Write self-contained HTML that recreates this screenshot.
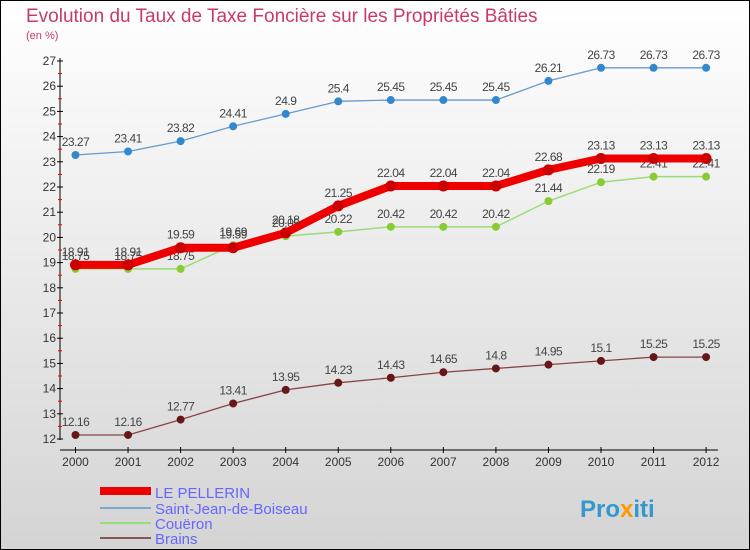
<!DOCTYPE html>
<html><head><meta charset="utf-8"><style>
body{margin:0}
svg{display:block;font-family:"Liberation Sans",sans-serif}
</style></head><body>
<svg id="c" width="750" height="550" viewBox="0 0 750 550">
<defs><linearGradient id="bg" x1="0" y1="0" x2="0" y2="1"><stop offset="0" stop-color="#ffffff"/><stop offset="1" stop-color="#d4d4d4"/></linearGradient></defs>
<rect x="0.5" y="0.5" width="749" height="549" fill="url(#bg)" stroke="#000"/>
<text x="26" y="22" font-size="19" fill="#c8396a">Evolution du Taux de Taxe Foncière sur les Propriétés Bâties</text>
<text x="26" y="39" font-size="11" fill="#c8396a">(en %)</text>
<g id="axes"></g><g id="series"></g>
<g>
<rect x="100" y="487" width="51" height="8" fill="#ee0000"/>
<text x="155" y="498" font-size="15" fill="#6666ff">LE PELLERIN</text>
<rect x="100" y="507" width="51" height="2" fill="#7aaacc"/>
<text x="155" y="514" font-size="15" fill="#6666ff">Saint-Jean-de-Boiseau</text>
<rect x="100" y="522" width="51" height="2" fill="#99dd77"/>
<text x="155" y="529" font-size="15" fill="#6666ff">Couëron</text>
<rect x="100" y="537" width="51" height="2" fill="#885555"/>
<text x="155" y="544" font-size="15" fill="#6666ff">Brains</text>
</g>
<text x="580" y="517" font-size="24" font-weight="bold" fill="#3399cc">Pro<tspan fill="#ff9900">x</tspan>iti</text>
</svg>
<script>
const years=[2000,2001,2002,2003,2004,2005,2006,2007,2008,2009,2010,2011,2012];
const yTicks=[12,13,14,15,16,17,18,19,20,21,22,23,24,25,26,27];
const lePellerin=[18.91,18.91,19.59,19.59,20.18,21.25,22.04,22.04,22.04,22.68,23.13,23.13,23.13];
const saintJean=[23.27,23.41,23.82,24.41,24.9,25.4,25.45,25.45,25.45,26.21,26.73,26.73,26.73];
const coueron=[18.75,18.75,18.75,19.69,20.05,20.22,20.42,20.42,20.42,21.44,22.19,22.41,22.41];
const brains=[12.16,12.16,12.77,13.41,13.95,14.23,14.43,14.65,14.8,14.95,15.1,15.25,15.25];
const NS="http://www.w3.org/2000/svg";
const X=i=>75.5+i*52.55, Y=v=>439-(v-12)*25.2;
function mk(t,a,p){const e=document.createElementNS(NS,t);for(const k in a)e.setAttribute(k,a[k]);p.appendChild(e);return e;}
const ax=document.getElementById('axes');
let l=mk('line',{x1:60,y1:58,x2:60,y2:440,stroke:'#000'},ax);


l=mk('line',{x1:60,y1:450,x2:718,y2:450,stroke:'#000'},ax);


yTicks.forEach(v=>{mk('line',{x1:57,y1:Y(v),x2:63,y2:Y(v),stroke:'#000'},ax);
if(v<27)mk('line',{x1:58,y1:Y(v+0.5),x2:62,y2:Y(v+0.5),stroke:'#e00'},ax);
const t=mk('text',{x:56,y:Y(v)+4,'font-size':12,fill:'#333','text-anchor':'end'},ax);t.textContent=v;

});
years.forEach((yr,i)=>{mk('line',{x1:X(i),y1:447,x2:X(i),y2:453,stroke:'#000'},ax);
const t=mk('text',{x:X(i),y:466,'font-size':12,fill:'#333','text-anchor':'middle'},ax);t.textContent=yr;

});
const sg=document.getElementById('series');
function series(d,name,col,w,dot,dcol,r){
const g=mk('g',{},sg);


mk('polyline',{points:d.map((v,i)=>X(i)+','+Y(v)).join(' '),fill:'none',stroke:col,'stroke-width':w,'stroke-linejoin':'round'},g);
d.forEach((v,i)=>{const c=mk('circle',{cx:X(i),cy:Y(v),r:r,fill:dcol},g);


const t=mk('text',{x:X(i),y:Y(v)-9,'font-size':12,fill:'#444','text-anchor':'middle','letter-spacing':'-0.5'},g);t.textContent=v;

});}
series(brains,'brains','#884444',1.3,1,'#661818',4);
series(saintJean,'saint-jean','#6699cc',1.3,1,'#3388cc',4);
series(coueron,'coueron','#99dd77',1.5,1,'#88cc33',4);
series(lePellerin,'le-pellerin','#ee0000',8,1,'#cc0000',5.5);
</script>
</body></html>
